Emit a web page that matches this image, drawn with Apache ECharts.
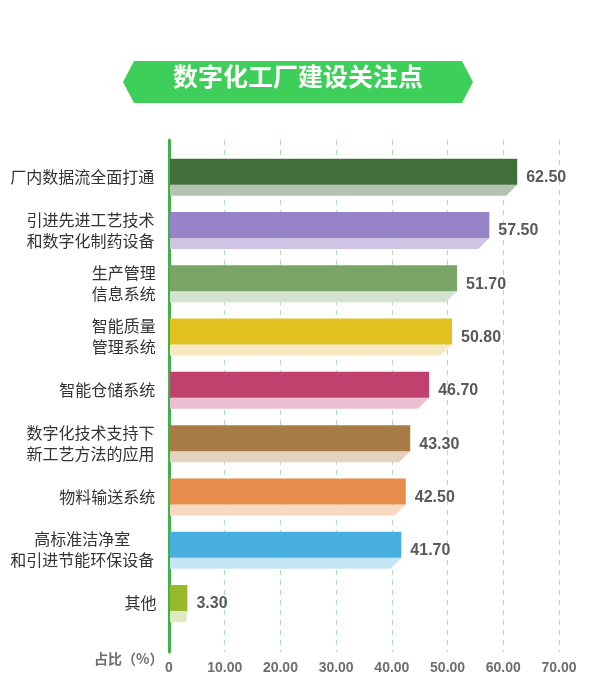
<!doctype html>
<html>
<head>
<meta charset="UTF-8" />
<style>
  html, body { margin: 0; padding: 0; width: 100%; height: 100%; background: #fff; }
  #chart { width: 596px; height: 700px; }
</style>
</head>
<body>
<div id="chart"></div>
<script src="https://cdn.jsdelivr.net/npm/echarts@6/dist/echarts.min.js"></script>
<script>
  const categories = [
    '厂内数据流全面打通',
    '引进先进工艺技术\n和数字化制药设备',
    '生产管理\n信息系统',
    '智能质量\n管理系统',
    '智能仓储系统',
    '数字化技术支持下\n新工艺方法的应用',
    '物料输送系统',
    '高标准洁净室\n和引进节能环保设备',
    '其他'
  ]
  const values = [62.5, 57.5, 51.7, 50.8, 46.7, 43.3, 42.5, 41.7, 3.3]
  const frontColors = ['#436f3d', '#9683c8', '#7aa466', '#e2c020', '#c0406e', '#a87c44', '#e88c4c', '#48b0e0', '#9ab82c']
  const bottomColors = ['#b4c4b0', '#d0c4e4', '#d4e3cd', '#f6eac0', '#ecc0d0', '#e4d2bc', '#f8d8c0', '#c4e6f4', '#e0eac0']

  const chart = echarts.init(document.getElementById('chart'))
  const FONT = '"Noto Sans CJK SC", "Noto Sans", sans-serif'
  const NUM_FONT = '"Liberation Sans", Arial, sans-serif'

  const data = values.map((v, i) => [v, i])

  function renderItem(params, api) {
    const i = api.value(1)
    const v = api.value(0)
    const c = api.coord([v, i])
    const x0 = api.coord([0, i])[0] + 1
    const y = c[1]
    const x1 = c[0]
    const slant = x1 - x0 > 30 ? 11 : 1
    const lines = categories[i].split('\n')
    const maxLen = Math.max(...lines.map((l) => l.length))
    const blockW = maxLen * 16.6
    return {
      type: 'group',
      children: [
        {
          type: 'polygon',
          shape: { points: [[x0, y + 8], [x1, y + 8], [x1 - slant, y + 19], [x0, y + 19]] },
          style: { fill: bottomColors[i] }
        },
        {
          type: 'rect',
          shape: { x: x0, y: y - 18, width: x1 - x0, height: 26 },
          style: { fill: frontColors[i] }
        },
        {
          type: 'text',
          style: {
            x: x1 + 9, y: y + 1, text: v.toFixed(2),
            fill: '#595959', font: 'bold 16px ' + NUM_FONT,
            textAlign: 'left', textVerticalAlign: 'middle'
          }
        },
        {
          type: 'text',
          style: {
            x: 157 - blockW / 2, y: y, text: categories[i],
            fill: '#333', font: '16px ' + FONT, lineHeight: 21,
            textAlign: 'center', textVerticalAlign: 'middle'
          }
        }
      ]
    }
  }

  const option = {
    animation: false,
    grid: { left: 169, right: 37, top: 140, bottom: 48 },
    xAxis: {
      type: 'value',
      min: 0,
      max: 70,
      interval: 10,
      axisLine: { show: false },
      axisTick: { show: false },
      splitLine: { show: true, lineStyle: { type: [5, 5], color: '#a8e0b0', width: 1 } },
      axisLabel: {
        margin: 9,
        color: '#6e6e6e',
        fontWeight: 'bold',
        fontSize: 14,
        fontFamily: NUM_FONT,
        formatter: (v) => (v === 0 ? '0' : v.toFixed(2))
      }
    },
    yAxis: {
      type: 'value',
      inverse: true,
      min: -0.69,
      max: 8.92,
      axisLabel: { show: false },
      axisTick: { show: false },
      splitLine: { show: false },
      axisLine: { show: true, lineStyle: { color: '#3cb44a', width: 3 } }
    },
    graphic: [
      {
        type: 'polygon',
        shape: { points: [[123, 82], [134, 61], [462, 61], [473, 82], [462, 103], [134, 103]] },
        style: { fill: '#3ecf5a' }
      },
      {
        type: 'text',
        left: 'center',
        top: 64,
        style: { text: '数字化工厂建设关注点', fill: '#fff', font: 'bold 25px ' + FONT }
      },
      {
        type: 'text',
        left: 94,
        top: 652,
        style: { text: '占比（%）', fill: '#6e6e6e', font: 'bold 14px ' + FONT }
      }
    ],
    series: [
      { type: 'custom', renderItem: renderItem, data: data, encode: { x: 0, y: 1 } }
    ]
  }
  chart.setOption(option)
</script>
</body>
</html>
